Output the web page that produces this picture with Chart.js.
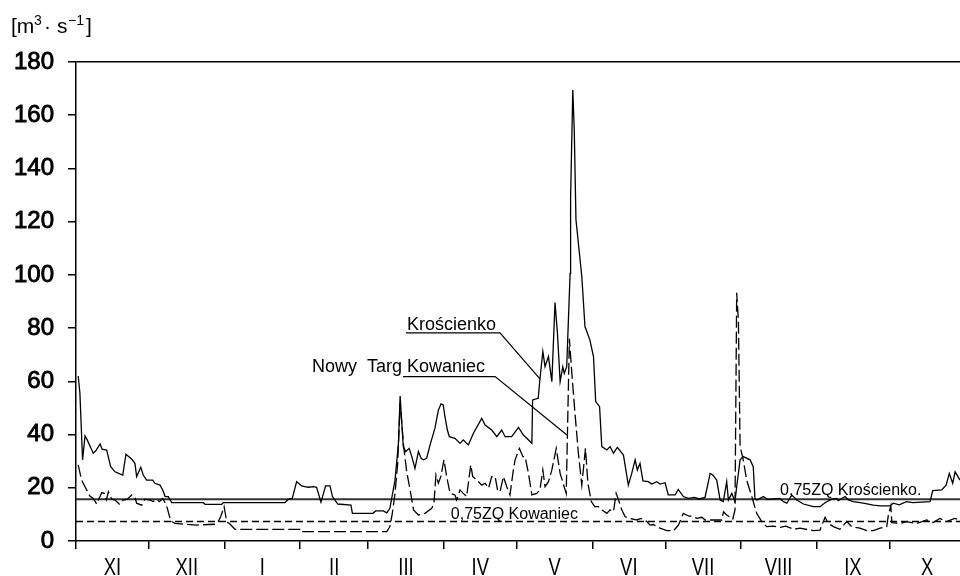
<!DOCTYPE html>
<html>
<head>
<meta charset="utf-8">
<script src="https://cdn.jsdelivr.net/npm/chart.js@4/dist/chart.umd.min.js"></script>
<style>
  html, body { margin: 0; padding: 0; background: #fff; overflow: hidden; }
  #wrap { position: relative; width: 960px; height: 576px; }
</style>
</head>
<body>
<div id="wrap"><canvas id="c" width="960" height="576"></canvas></div>
<script>
// Hydrological year, November to October
const monthLabels = ['XI', 'XII', 'I', 'II', 'III', 'IV', 'V', 'VI', 'VII', 'VIII', 'IX', 'X'];
const monthLengths = [30, 31, 31, 28, 31, 30, 31, 30, 31, 31, 30, 31];
const yTickValues = [0, 20, 40, 60, 80, 100, 120, 140, 160, 180];

// Krościenko – daily discharge [m3/s], day of hydrological year
const krosDays = [0.9, 1.6, 2.7, 3.7, 4.6, 7.1, 8.2, 9.9, 10.7, 12.6, 14.2, 16, 18, 19.2, 20.5, 22.9, 24.2, 24.9, 26.6, 27.6,
  29, 31.5, 32.4, 34.5, 35.6, 36.6, 37.9, 39.3, 52.3, 53, 59.8, 60.5, 85.8, 87.2, 88.8, 90.6, 92.7, 94, 95.4, 97.5,
  98.8, 100.6, 102.5, 104.3, 105.3, 107.5, 112.9, 113.5, 122, 123, 126.2, 127.6, 128.9, 131, 132.4, 133.1, 134.4, 135.4, 136.8, 137.9,
  139.2, 140.6, 141.7, 142.6, 144, 145.4, 147.4, 148.8, 149.9, 150.8, 151.5, 152.5, 153.3, 155.6, 157.7, 159, 161.1, 163.2, 166.6, 168,
  170.7, 172.8, 174.8, 176.2, 178.9, 181.7, 183.7, 187.2, 187.5, 189.8, 190.5, 191.7, 192.6, 194, 195.4, 196.7, 197.7, 198.8, 199.9, 200.5,
  201.5, 202.2, 202.9, 203.1, 204, 204.6, 205.3, 207.7, 209, 211, 212.5, 213.4, 215, 215.9, 218, 219.3, 220.7, 222.3, 224.8, 226.8,
  228.2, 229.6, 230.5, 231.6, 232.8, 235, 236.4, 238.5, 239.8, 241.9, 243.2, 246, 247.3, 249.4, 251.5, 254, 256, 258.3, 260.4, 261.5,
  263.1, 264.5, 265.8, 267.2, 267.9, 269.3, 270.6, 271.3, 272.7, 274, 276.8, 278.1, 278.8, 279.5, 282.3, 284, 289.1, 290.5, 291.9, 293.9,
  296, 298.7, 302.8, 305.5, 307.6, 310.3, 312.4, 313, 315.8, 317.2, 319.2, 323.3, 327.4, 330.2, 334.3, 335.6, 338, 341, 343.7, 350.7,
  351.8, 355.5, 357.3, 358.6, 360, 361, 363];
const krosFlow = [62, 55.6, 30.5, 39.5, 38, 33, 34, 36.5, 34.5, 34.2, 28, 26, 25.2, 24.8, 32.6, 30.7, 29.2, 24.2, 27.7, 24.8,
  22.9, 22.9, 21.7, 21, 19.2, 16.7, 16.7, 14.4, 14.4, 13.8, 13.8, 14.4, 14.4, 15.7, 16, 22.3, 20.7, 20.4, 20.2, 20.4,
  20.2, 14.6, 20.7, 20.7, 16.7, 13.9, 13.5, 10.4, 10.4, 11.3, 11.3, 10.6, 12.3, 22.9, 36.7, 54.5, 35.4, 33.6, 34.8, 31.7,
  27.3, 33.6, 31.1, 30.5, 31.1, 36.1, 42.4, 49.2, 51.5, 51.1, 46.7, 41.7, 39.2, 38.6, 36.7, 38, 36.1, 40.5, 46.1, 43.6,
  41.7, 39.2, 41.7, 39.2, 39.2, 42.7, 39.8, 36.7, 53, 53.6, 60.8, 71.2, 65.5, 69.3, 59.9, 89.6, 78, 59.9, 65.5, 63,
  65.5, 83, 100.6, 129, 169.5, 154.5, 120.7, 99.4, 80.6, 75.6, 69.3, 52.4, 50.5, 35.5, 34.2, 35.5, 33, 35.2, 32.3, 21,
  25.4, 30.5, 26.7, 29.2, 22.6, 22.3, 21.4, 22.3, 21.4, 21.9, 17.3, 17.3, 19.4, 16.7, 16, 16.4, 15.8, 16.4, 25.4, 24.8,
  22.9, 15.4, 14.8, 22.3, 15.4, 17.9, 14.8, 20.4, 30.5, 31.7, 30.5, 27.9, 16, 15.4, 16.7, 15.6, 16, 14.8, 14.2, 17.3,
  15.4, 13.9, 12.9, 12.9, 14.4, 15.7, 16, 15.2, 16.7, 15.4, 14.8, 14.2, 13.5, 13.2, 13.2, 14.2, 13.6, 14.8, 14.4, 14.8,
  18.9, 19.2, 21, 25.4, 21.7, 26, 22.9];

// Nowy Targ Kowaniec – daily discharge [m3/s]
const kowDays = [0.9, 2.3, 3.7, 5.7, 7.1, 8.5, 10.6, 11.6, 12.5, 13.3, 14.7, 16, 17.8, 19.4, 21.1, 22.9, 24.2, 24.9, 27, 28.3,
  30.4, 31.7, 33.1, 34.2, 35.6, 36.6, 37.5, 38.9, 40.7, 44.1, 49.6, 57.1, 58.4, 59.4, 60.8, 61.9, 63.2, 65.3, 93, 93.1,
  127.6, 128.9, 129.9, 131, 132.1, 133.1, 134.5, 135.8, 137.2, 138.6, 140.6, 143.3, 146.1, 147, 147.8, 148.8, 149.8, 151.1, 152.2, 153.6,
  155.6, 156.3, 157.7, 159, 160.4, 162.1, 162.9, 164.6, 166.6, 168, 169.4, 170.7, 172.1, 173.1, 174.1, 175.5, 176.9, 178.2, 179.6, 180.3,
  182.1, 183.5, 184.4, 185.8, 187.2, 189.2, 190.5, 191.7, 192.6, 194, 195.4, 197.2, 198.8, 201.3, 202.6, 203.5, 204.9, 206.3, 207.7, 209.2,
  210.2, 211.6, 213, 214.5, 215.9, 218, 219.3, 220.7, 221.8, 222.8, 224.1, 225.5, 227.5, 230.3, 232, 234.4, 235.7, 237.1, 239.8, 242.6,
  245.4, 247.4, 249.4, 251.5, 253.5, 255, 257, 258.4, 265.2, 265.9, 267.2, 268.6, 269.7, 270.6, 271.3, 272, 272.7, 274, 275.4, 277.5,
  279.5, 281.6, 283.6, 286.4, 289.1, 291.5, 294.6, 297.3, 302.8, 305.5, 307.6, 308.9, 311, 313.7, 316.5, 318.5, 321.9, 324.7, 327.4, 330.2,
  332.9, 333.6, 334.6, 335, 338.4, 341.1, 345.2, 349.3, 352, 354.7, 357.5, 360.8, 363];
const kowFlow = [28.6, 22.9, 20.4, 16.9, 16, 13.9, 18.2, 17.9, 15.5, 18.5, 15.7, 15.4, 13.9, 15.4, 15.7, 17.3, 16.4, 14.2, 13.5, 15.7,
  15.4, 14.8, 15.7, 14.8, 16, 14.4, 12.3, 7.5, 6.6, 6.3, 6, 6.3, 7.3, 9.1, 12.9, 7.3, 6.4, 4.4, 4.4, 3.5,
  3.5, 5.4, 10.4, 17.9, 29.2, 52, 36, 26, 19.2, 11.7, 9.8, 10.4, 12.3, 14.2, 24.8, 21.7, 24.2, 30.5, 24.2, 17.9,
  17.3, 15.4, 19.2, 17.9, 16.7, 28.6, 24.2, 22.9, 21, 21.7, 19.8, 24.2, 24.2, 19.2, 18.5, 24.2, 20.4, 17.3, 26.7, 30.5,
  34.8, 31.7, 31.7, 25.4, 17.3, 17.9, 19.2, 26.7, 20.4, 22.3, 26.7, 34.8, 25.4, 17.9, 76, 64.3, 48, 33, 21, 34.8,
  21.7, 14.8, 12.9, 12.9, 11.7, 10.4, 11.7, 11, 17.9, 15.4, 11.7, 9.1, 8.5, 7.9, 8.5, 7.3, 6, 6.2, 4.8, 3.9,
  3.9, 6, 10.4, 9.4, 9.1, 8.5, 8.9, 7.9, 7.9, 11, 9.8, 8.9, 8.2, 11.7, 93.3, 83, 35.5, 30.5, 22.9, 16.7,
  10.4, 7.3, 5.4, 5.6, 5.1, 5.6, 4.4, 4.8, 3.9, 4.1, 8.9, 6.6, 5.4, 4.4, 7.3, 5.4, 4.8, 3.9, 3.9, 4.8,
  5.4, 9.8, 13.2, 6.9, 6.6, 7.3, 6.6, 7.9, 6.9, 8.5, 7.3, 8.5, 7.9];

// 0,75 ZQ threshold discharges
const zqKroscienko = 15.7;
const zqKowaniec = 7.3;

const lastDay = 363;

// month boundaries (tick marks) and month centres (label positions)
const boundaries = [];
const centres = [];
let acc = 0;
monthLengths.forEach(len => {
  boundaries.push(acc);
  centres.push(acc + len / 2);
  acc += len;
});

const toPoints = (xs, ys) => xs.map((x, i) => ({ x, y: ys[i] }));

const annotations = {
  id: 'annotations',
  afterDraw(chart) {
    const { ctx, scales: { x, y } } = chart;
    const px = d => x.getPixelForValue(d);
    const py = v => y.getPixelForValue(v);
    ctx.save();
    ctx.fillStyle = '#000';
    ctx.strokeStyle = '#000';
    ctx.textBaseline = 'alphabetic';
    ctx.textAlign = 'left';

    // unit label
    ctx.font = '21px "Liberation Sans", Arial, sans-serif';
    ctx.fillText('[m', 11, 33);
    ctx.fillText('·', 44, 33);
    ctx.fillText('s', 57, 33);
    ctx.fillText(']', 86, 33);
    ctx.font = '14px "Liberation Sans", Arial, sans-serif';
    ctx.fillText('3', 34, 25);
    ctx.fillText('\u22121', 68, 25);

    // month names, narrow lettering centred in each month
    ctx.font = '23px "Liberation Sans", Arial, sans-serif';
    ctx.textAlign = 'center';
    monthLabels.forEach((m, i) => {
      if (centres[i] > lastDay) return;
      ctx.save();
      ctx.translate(px(centres[i]), 575);
      ctx.scale(0.8, 1);
      ctx.fillText(m, 0, 0);
      ctx.restore();
    });
    ctx.textAlign = 'left';

    // station labels with leader lines
    ctx.font = '18px "Liberation Sans", Arial, sans-serif';
    ctx.fillText('Krościenko', px(135.9), py(79.3));
    ctx.fillText('Nowy  Targ Kowaniec', px(96.9), py(63.6));
    ctx.lineWidth = 1.2;
    ctx.beginPath();
    ctx.moveTo(px(135.5), py(78.2));
    ctx.lineTo(px(174.1), py(78.2));
    ctx.lineTo(px(190.6), py(60.8));
    ctx.stroke();
    ctx.beginPath();
    ctx.moveTo(px(134.3), py(61.8));
    ctx.lineTo(px(172.1), py(61.8));
    ctx.lineTo(px(201.6), py(39.8));
    ctx.stroke();

    // threshold labels
    ctx.font = '16px "Liberation Sans", Arial, sans-serif';
    ctx.fillText('0,75ZQ Krościenko.', px(289.1), py(zqKroscienko + 1.5));
    ctx.fillText('0,75ZQ Kowaniec', px(153.9), py(zqKowaniec + 1.1));
    ctx.restore();
  }
};

new Chart(document.getElementById('c'), {
  type: 'line',
  data: {
    datasets: [
      {
        label: 'Krościenko',
        data: toPoints(krosDays, krosFlow),
        borderColor: '#000', borderWidth: 1.3, pointRadius: 0, tension: 0
      },
      {
        label: 'Nowy Targ Kowaniec',
        data: toPoints(kowDays, kowFlow),
        borderColor: '#000', borderWidth: 1.3, borderDash: [12, 4], pointRadius: 0, tension: 0
      },
      {
        label: '0,75ZQ Krościenko',
        data: toPoints([0, lastDay], [zqKroscienko, zqKroscienko]),
        borderColor: '#333', borderWidth: 2, pointRadius: 0
      },
      {
        label: '0,75ZQ Kowaniec',
        data: toPoints([0, lastDay], [zqKowaniec, zqKowaniec]),
        borderColor: '#000', borderWidth: 1.4, borderDash: [7, 4], pointRadius: 0
      }
    ]
  },
  options: {
    responsive: false,
    animation: false,
    devicePixelRatio: 1,
    layout: { padding: { top: 62, left: 0, right: 0, bottom: 0 } },
    plugins: { legend: { display: false }, tooltip: { enabled: false } },
    scales: {
      x: {
        type: 'linear',
        min: 0,
        max: lastDay,
        afterBuildTicks: scale => {
          scale.ticks = boundaries.filter(v => v <= lastDay).map(v => ({ value: v }));
        },
        afterFit: scale => { scale.height = 35; },
        border: { display: true, color: '#000', width: 1.5 },
        grid: {
          drawOnChartArea: false,
          drawTicks: true,
          tickLength: 8,
          lineWidth: 1.5,
          color: '#000',
          tickColor: '#000'
        },
        ticks: { display: false, autoSkip: false }
      },
      y: {
        min: 0,
        max: 180,
        afterBuildTicks: scale => { scale.ticks = yTickValues.map(v => ({ value: v })); },
        afterFit: scale => { scale.width = 76; },
        border: { display: true, color: '#000', width: 1.5 },
        grid: {
          drawOnChartArea: true,
          tickLength: 8,
          lineWidth: 1.5,
          color: c => (c.tick && c.tick.value === 180) ? '#000' : 'rgba(0,0,0,0)',
          tickColor: '#000'
        },
        ticks: {
          padding: 14,
          color: '#000',
          textStrokeColor: '#000',
          textStrokeWidth: 0.9,
          font: { family: '"Liberation Sans", Arial, sans-serif', size: 24 }
        }
      }
    }
  },
  plugins: [annotations]
});
</script>
</body>
</html>
